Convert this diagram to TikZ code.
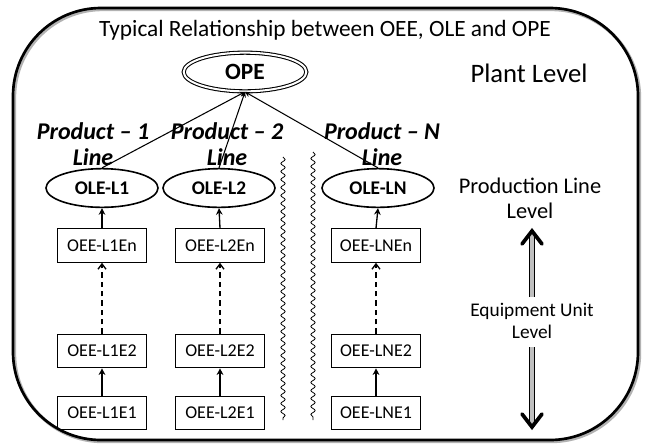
\documentclass[tikz,border=0pt]{standalone}
\usepackage{fontspec}
\setmainfont{Carlito}
\usetikzlibrary{shapes.geometric,arrows.meta,decorations.pathmorphing}
\begin{document}
\begin{tikzpicture}[x=0.75pt,y=-0.75pt,
  oval/.style={ellipse,draw,line width=1.2pt,minimum width=84pt,minimum height=29pt,inner sep=0pt,font=\fontsize{14.5}{16}\selectfont\bfseries},
  eqbox/.style={rectangle,draw,line width=0.9pt,minimum width=67pt,minimum height=25pt,inner sep=0pt,font=\fontsize{13.5}{15}\selectfont},
  prodlbl/.style={align=center,font=\fontsize{18}{19.5}\selectfont\bfseries\itshape},
  uparr/.style={line width=1pt,-{Stealth[length=5pt,width=5pt]}},
  dasharr/.style={line width=1pt,dashed,dash pattern=on 4pt off 3pt,-{Straight Barb[length=4pt,width=6pt]}},
  wave/.style={decorate,decoration={snake,amplitude=1.6pt,segment length=6pt},line width=0.6pt},
  bigshaft/.style={double=gray!50,double distance=2.5pt,line width=0.8pt},
  chevron/.style={line width=2.8pt,line cap=round,line join=miter}]
\useasboundingbox (0,0) rectangle (645,444);
% outer frame
\draw[gray!60,line width=2.5pt,rounded corners=66pt] (14.5,9.5) rectangle (639.5,441.5);
\draw[line width=2pt,rounded corners=66pt] (13,8) rectangle (638,440);
% title & levels
\node[font=\fontsize{17.5}{20}\selectfont] (title) at (325,30) {Typical Relationship between OEE, OLE and OPE};
\node[font=\fontsize{20}{23}\selectfont] (plant) at (529,73) {Plant Level};
\node[align=center,font=\fontsize{16.8}{19}\selectfont] (prodlevel) at (530,198) {Production Line\\Level};
\node[align=center,font=\fontsize{14.5}{17}\selectfont] (equiplevel) at (532,321) {Equipment Unit\\Level};
% OPE
\node[ellipse,draw,double,double distance=1.5pt,line width=0.8pt,minimum width=92pt,minimum height=29pt,inner sep=0pt,font=\fontsize{17.5}{20}\selectfont\bfseries] (ope) at (245,72) {OPE};
% OLE
\node[oval] (ole1) at (102,188) {OLE-L1};
\node[oval] (ole2) at (219,188) {OLE-L2};
\node[oval] (olen) at (378,188) {OLE-LN};
% product labels
\node[prodlbl] (p1) at (93,144) {Product -- 1\\Line};
\node[prodlbl] (p2) at (227,144) {Product -- 2\\Line};
\node[prodlbl] (pn) at (382,144) {Product -- N\\Line};
% boxes
\node[eqbox] (l1en) at (102,245.5) {OEE-L1En};
\node[eqbox] (l1e2) at (102,351) {OEE-L1E2};
\node[eqbox] (l1e1) at (102,413) {OEE-L1E1};
\node[eqbox] (l2en) at (220,245.5) {OEE-L2En};
\node[eqbox] (l2e2) at (220,351) {OEE-L2E2};
\node[eqbox] (l2e1) at (220,413) {OEE-L2E1};
\node[eqbox] (lnen) at (376,245.5) {OEE-LNEn};
\node[eqbox] (lne2) at (376,351) {OEE-LNE2};
\node[eqbox] (lne1) at (376,413) {OEE-LNE1};
% OPE links
\foreach \o in {ole1,ole2,olen}{
  \draw[line width=0.8pt,-{Stealth[length=4pt,width=4pt]}] (\o.north) -- (ope.south);
}
% vertical arrows
\foreach \c in {l1,l2,ln}{
  \draw[uparr] (\c e1.north) -- (\c e2.south);
  \draw[dasharr] (\c e2.north) -- (\c en.south);
}
\draw[uparr] (l1en.north) -- (ole1.south);
\draw[uparr] (l2en.north) -- (ole2.south);
\draw[uparr] (lnen.north) -- (olen.south);
% wavy separators
\coordinate (w1a) at (283,157); \coordinate (w1b) at (283,420);
\coordinate (w2a) at (313,152); \coordinate (w2b) at (313,420);
\draw[wave] (w1a) -- (w1b);
\draw[wave] (w2a) -- (w2b);
% big double arrow
\coordinate (ua) at (532,297); \coordinate (ub) at (532,234);
\coordinate (da) at (532,347); \coordinate (db) at (532,424);
\draw[bigshaft] (ua) -- (ub);
\draw[bigshaft] (da) -- (db);
\draw[chevron] (522,244) -- (532,231) -- (542,244);
\draw[chevron] (522,414) -- (532,427) -- (542,414);
\end{tikzpicture}
\end{document}
